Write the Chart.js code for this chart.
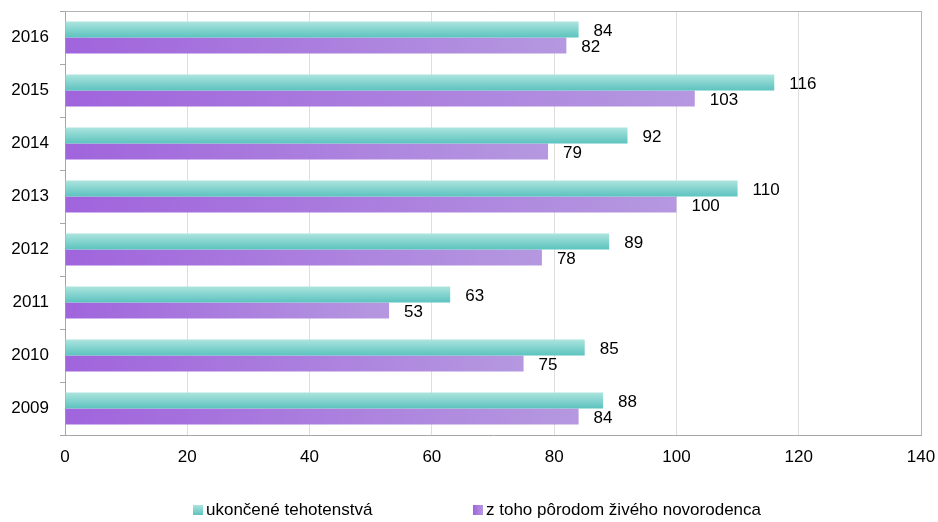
<!DOCTYPE html>
<html>
<head>
<meta charset="utf-8">
<script src="https://cdn.jsdelivr.net/npm/chart.js@4/dist/chart.umd.min.js"></script>
<style>
  html, body { margin: 0; padding: 0; background: #ffffff; }
  #wrap { width: 938px; height: 522px; position: relative; }
</style>
</head>
<body>
<div id="wrap"><canvas id="c" width="938" height="522"></canvas></div>
<script>
const categories = ['2016', '2015', '2014', '2013', '2012', '2011', '2010', '2009'];
const seriesNames = ['ukončené tehotenstvá', 'z toho pôrodom živého novorodenca'];
const endedPregnancies = [84, 116, 92, 110, 89, 63, 85, 88];
const liveBirths = [82, 103, 79, 100, 78, 53, 75, 84];
const xTicks = [0, 20, 40, 60, 80, 100, 120, 140];

const FONT = '"Liberation Sans", Arial, sans-serif';

function tealFill(ctx) {
  const chart = ctx.chart;
  const y = chart.scales.y;
  if (!y || ctx.dataIndex === undefined) return '#7fd1cc';
  const c = y.getPixelForValue(ctx.dataIndex);
  const band = (y.bottom - y.top) / categories.length * 0.6;
  if (!isFinite(c) || !isFinite(band) || band <= 0) return '#7fd1cc';
  const g = chart.ctx.createLinearGradient(0, c - band / 2, 0, c);
  g.addColorStop(0, '#ace4de');
  g.addColorStop(1, '#5cc3bf');
  return g;
}
function purpleFill(ctx) {
  const chart = ctx.chart;
  const x = chart.scales.x;
  if (!x || ctx.dataIndex === undefined) return '#a97ddd';
  const x0 = x.getPixelForValue(0);
  const x1 = x.getPixelForValue(ctx.raw);
  if (!isFinite(x0) || !isFinite(x1) || x1 <= x0) return '#a97ddd';
  const g = chart.ctx.createLinearGradient(x0, 0, x1, 0);
  g.addColorStop(0, '#a064dc');
  g.addColorStop(1, '#b598e0');
  return g;
}

const frame = {
  id: 'frame',
  afterDraw(chart) {
    const a = chart.chartArea, c = chart.ctx;
    c.save();
    c.strokeStyle = '#b3b3b3';
    c.lineWidth = 1;
    c.beginPath();
    c.moveTo(a.left, a.top + 0.5);
    c.lineTo(a.right + 0.5, a.top + 0.5);
    c.lineTo(a.right + 0.5, a.bottom);
    c.stroke();
    c.restore();
  }
};

const valueLabels = {
  id: 'valueLabels',
  afterDatasetsDraw(chart) {
    const c = chart.ctx;
    c.save();
    c.font = '17px ' + FONT;
    c.fillStyle = '#000000';
    c.textAlign = 'left';
    c.textBaseline = 'middle';
    chart.data.datasets.forEach((ds, di) => {
      chart.getDatasetMeta(di).data.forEach((el, i) => {
        c.fillText(String(ds.data[i]), el.x + 15, el.y + 2);
      });
    });
    c.restore();
  }
};

const customLegend = {
  id: 'customLegend',
  afterDraw(chart) {
    const c = chart.ctx;
    const items = [
      { x: 193, kind: 'teal' },
      { x: 473, kind: 'purple' }
    ];
    c.save();
    c.font = '17px ' + FONT;
    c.textAlign = 'left';
    c.textBaseline = 'alphabetic';
    items.forEach((it, i) => {
      const bx = it.x, by = 505, bw = 10, bh = 10;
      let g;
      if (it.kind === 'teal') {
        g = c.createLinearGradient(0, by, 0, by + bh);
        g.addColorStop(0, '#ace4de');
        g.addColorStop(1, '#5cc3bf');
      } else {
        g = c.createLinearGradient(bx, 0, bx + bw, 0);
        g.addColorStop(0, '#a064dc');
        g.addColorStop(1, '#b598e0');
      }
      c.fillStyle = g;
      c.fillRect(bx, by, bw, bh);
      c.fillStyle = '#000000';
      c.fillText(chart.data.datasets[i].label, bx + 13, 515);
    });
    c.restore();
  }
};

new Chart(document.getElementById('c'), {
  type: 'bar',
  data: {
    labels: categories,
    datasets: [
      { label: seriesNames[0], data: endedPregnancies, backgroundColor: tealFill,
        categoryPercentage: 0.6, barPercentage: 1.0, borderWidth: 0 },
      { label: seriesNames[1], data: liveBirths, backgroundColor: purpleFill,
        categoryPercentage: 0.6, barPercentage: 1.0, borderWidth: 0 }
    ]
  },
  options: {
    indexAxis: 'y',
    responsive: false,
    animation: false,
    devicePixelRatio: 1,
    layout: { padding: { left: 0, right: 17, top: 11, bottom: 47 } },
    plugins: {
      legend: { display: false },
      tooltip: { enabled: false }
    },
    scales: {
      x: {
        type: 'linear',
        min: 0, max: 140,
        afterBuildTicks(scale) { scale.ticks = xTicks.map(v => ({ value: v })); },
        afterFit(scale) { scale.height = 40; scale.paddingLeft = 0; scale.paddingRight = 0; },
        grid: { color: '#dedede', lineWidth: 1, drawTicks: false },
        border: { display: true, color: '#a6a6a6', width: 1 },
        ticks: { font: { family: FONT, size: 17 }, color: '#000000', padding: 12 }
      },
      y: {
        type: 'category',
        afterFit(scale) { scale.width = 65; scale.paddingTop = 0; scale.paddingBottom = 0; },
        grid: { drawOnChartArea: false, offset: true, color: '#a6a6a6', tickLength: 5, drawTicks: true },
        border: { display: true, color: '#a6a6a6', width: 1 },
        ticks: { font: { family: FONT, size: 17 }, color: '#000000', padding: 11 }
      }
    }
  },
  plugins: [frame, valueLabels, customLegend]
});
</script>
</body>
</html>
